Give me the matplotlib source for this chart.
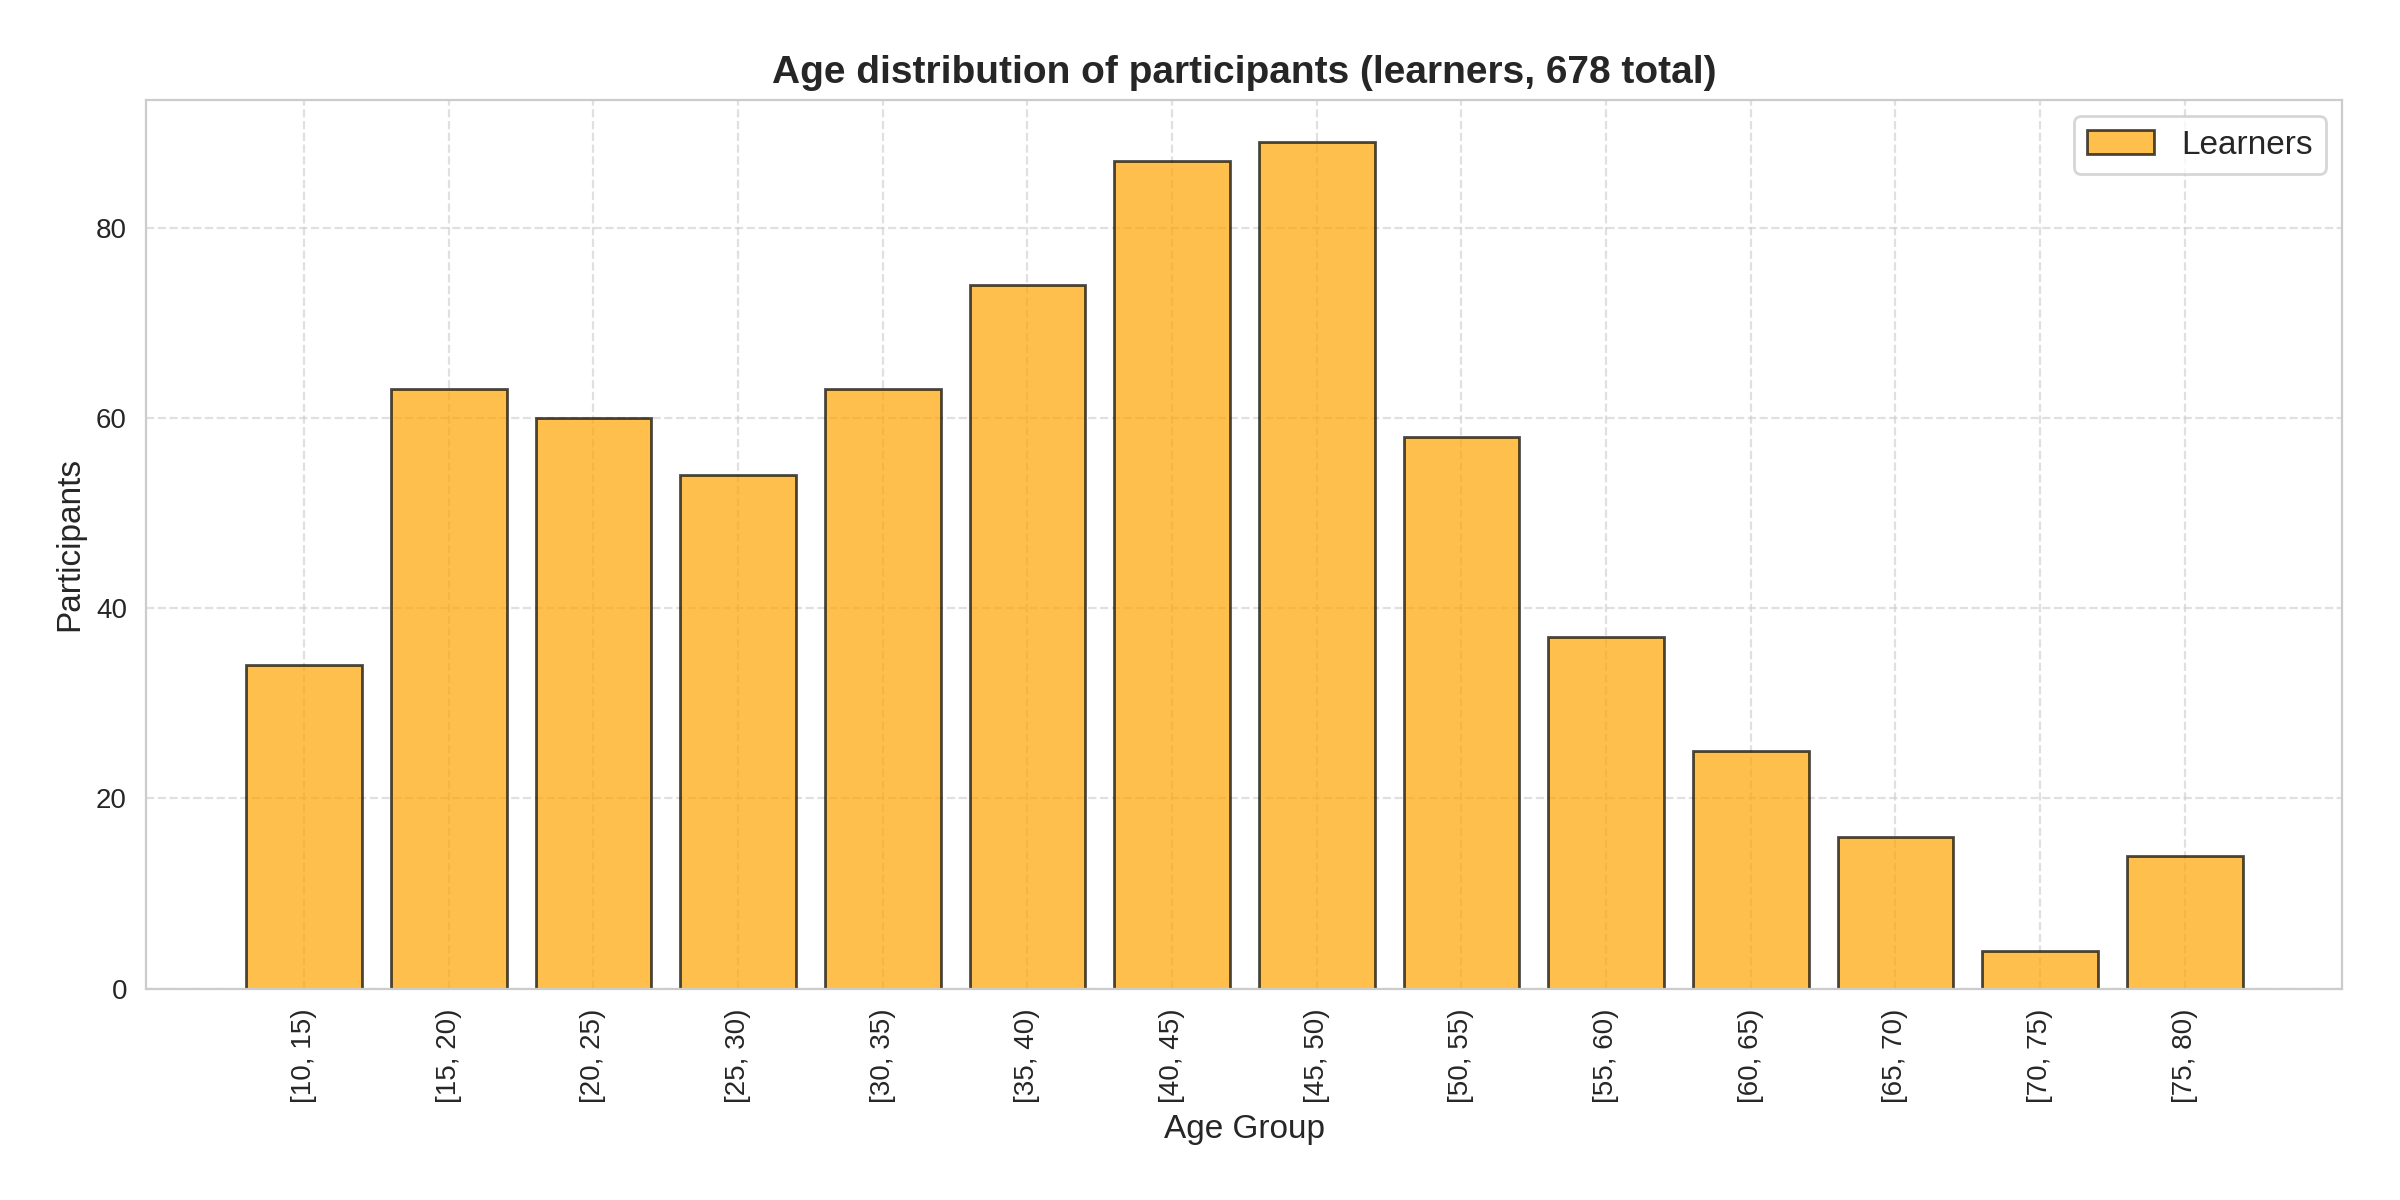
import matplotlib
matplotlib.use("Agg")
import matplotlib.pyplot as plt
import seaborn as sns

age_groups = ["[10, 15)", "[15, 20)", "[20, 25)", "[25, 30)", "[30, 35)", "[35, 40)",
              "[40, 45)", "[45, 50)", "[50, 55)", "[55, 60)", "[60, 65)", "[65, 70)",
              "[70, 75)", "[75, 80)"]
learners = [34, 63, 60, 54, 63, 74, 87, 89, 58, 37, 25, 16, 4, 14]

sns.set_style("whitegrid")
plt.rcParams['font.family'] = ['Liberation Sans', 'DejaVu Sans']

fig, ax = plt.subplots(figsize=(12, 6), dpi=200)
ax.bar(age_groups, learners, color="orange", alpha=0.7, edgecolor="black",
       linewidth=1, label="Learners")
ax.set_title(f"Age distribution of participants (learners, {sum(learners)} total)",
             fontsize=14, fontweight="bold")
ax.set_xlabel("Age Group", fontsize=12)
ax.set_ylabel("Participants", fontsize=12)
ax.tick_params(axis="x", rotation=90, labelsize=10)
ax.tick_params(axis="y", labelsize=10)
ax.grid(True, linestyle="--", alpha=0.6)
ax.legend(fontsize=12, loc="upper right")
fig.subplots_adjust(left=0.061, right=0.976, top=0.917, bottom=0.176)
fig.savefig("out.png", dpi=200)
